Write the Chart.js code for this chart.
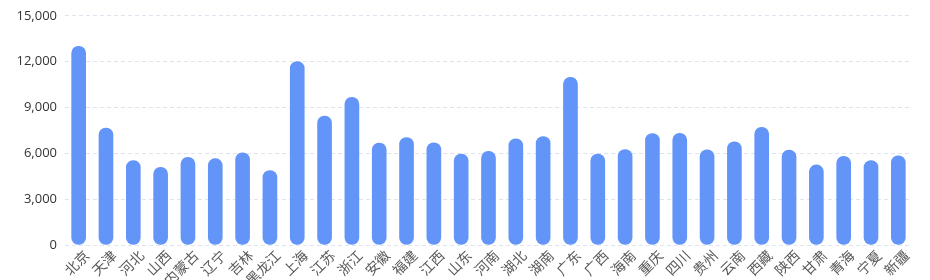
<!DOCTYPE html>
<html>
<head>
<meta charset="utf-8">
<script src="https://cdn.jsdelivr.net/npm/chart.js@4"></script>
<style>
  html, body { margin: 0; padding: 0; background: #fff; }
  #wrap { width: 930px; height: 280px; }
</style>
</head>
<body>
<div id="wrap"><canvas id="graph"></canvas></div>
<script>
var provinces = ['北京', '天津', '河北', '山西', '内蒙古', '辽宁', '吉林', '黑龙江', '上海', '江苏',
    '浙江', '安徽', '福建', '江西', '山东', '河南', '湖北', '湖南', '广东', '广西',
    '海南', '重庆', '四川', '贵州', '云南', '西藏', '陕西', '甘肃', '青海', '宁夏', '新疆'];
var values = [13000, 7650, 5520, 5090, 5740, 5650, 6040, 4870, 12000, 8440,
    9670, 6670, 7030, 6690, 5950, 6130, 6950, 7100, 10970, 5950,
    6250, 7290, 7310, 6230, 6750, 7700, 6210, 5240, 5800, 5520, 5840];
var yTicks = [0, 3000, 6000, 9000, 12000, 15000];

var cjk = '"Noto Sans CJK SC", "Noto Sans", sans-serif';

var ctx = document.getElementById('graph');
var graph = new Chart(ctx, {
    type: 'bar',
    data: {
        labels: provinces,
        datasets: [{
            data: values,
            backgroundColor: '#6395f9',
            borderWidth: 0,
            borderRadius: 7,
            borderSkipped: false,
            barThickness: 14
        }]
    },
    options: {
        responsive: true,
        maintainAspectRatio: false,
        animation: false,
        layout: { padding: { top: 6, right: 18, left: 0, bottom: 0 } },
        plugins: {
            legend: { display: false },
            tooltip: { enabled: false }
        },
        scales: {
            x: {
                grid: { display: false },
                border: { display: false },
                ticks: {
                    autoSkip: false,
                    minRotation: 45,
                    maxRotation: 45,
                    padding: -5,
                    labelOffset: 8,
                    color: '#595959',
                    font: { family: cjk, size: 14, lineHeight: 1 }
                },
                afterFit: function (scale) { scale.height = 35; }
            },
            y: {
                min: 0,
                max: 15000,
                afterBuildTicks: function (scale) {
                    scale.ticks = yTicks.map(function (v) { return { value: v }; });
                },
                grid: {
                    color: '#dfe5ef',
                    drawTicks: false
                },
                border: { display: false, dash: [4, 3] },
                ticks: {
                    padding: 8,
                    color: '#333',
                    font: { family: '"Open Sans", "Noto Sans", sans-serif', size: 13 },
                    callback: function (v) { return v.toLocaleString('en-US'); }
                },
                afterFit: function (scale) { scale.width = 65; }
            }
        }
    }
});
</script>
</body>
</html>
